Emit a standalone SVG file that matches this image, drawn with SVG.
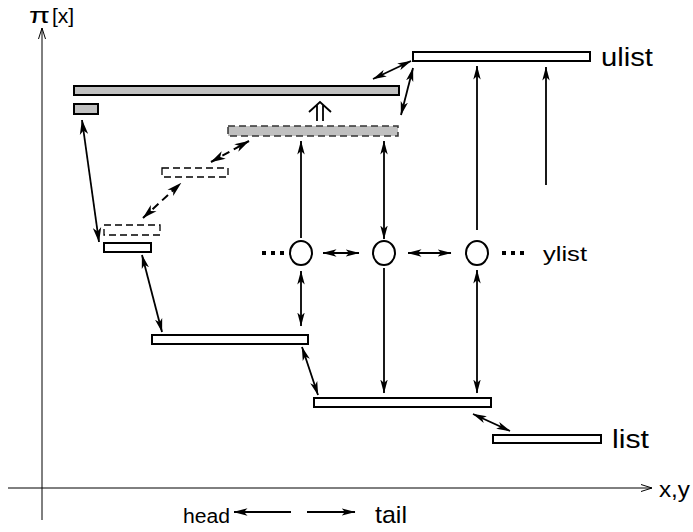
<svg xmlns="http://www.w3.org/2000/svg" width="693" height="532" viewBox="0 0 693 532">
<defs>
<marker id="ah" markerUnits="userSpaceOnUse" viewBox="0 0 14 8" markerWidth="14" markerHeight="8" refX="13.5" refY="4" orient="auto-start-reverse">
<path d="M0,0.3 L14,4 L0,7.7 L3.5,4 z" fill="#000"/>
</marker>
<marker id="ahb" markerUnits="userSpaceOnUse" viewBox="0 0 15 9" markerWidth="15" markerHeight="9" refX="14.5" refY="4.5" orient="auto-start-reverse">
<path d="M0,0.3 L15,4.5 L0,8.7 L4,4.5 z" fill="#000"/>
</marker>
<marker id="open" markerUnits="userSpaceOnUse" viewBox="0 0 12 10" markerWidth="12" markerHeight="10" refX="11" refY="5" orient="auto">
<path d="M0,1.5 L11,5 L0,8.5" fill="none" stroke="#000" stroke-width="1"/>
</marker>
</defs>
<style>
.bar{fill:#fff;stroke:#000;stroke-width:2}
.gbar{fill:#c0c0c0;stroke:#000;stroke-width:2}
.dgbar{fill:#c0c0c0;stroke:#333;stroke-width:1.5;stroke-dasharray:7,4}
.dbar{fill:#fff;stroke:#000;stroke-width:1.3;stroke-dasharray:7,4}
.a{stroke:#000;stroke-width:1.8;fill:none}
.da{stroke:#000;stroke-width:2;fill:none;stroke-dasharray:8,5}
.ax{stroke:#000;stroke-width:1;fill:none}
.node{fill:#fff;stroke:#000;stroke-width:2}
.t{font-family:"Liberation Sans",Arial,sans-serif;fill:#000}
</style>
<g id="axes">
<line class="ax" x1="42" y1="520" x2="42" y2="28" marker-end="url(#open)"/>
<line class="ax" x1="8" y1="488" x2="652" y2="488" marker-end="url(#open)"/>
<text class="t" x="29" y="23" font-size="22" textLength="21" lengthAdjust="spacingAndGlyphs">π</text>
<text class="t" x="52" y="23" font-size="21">[x]</text>
<text class="t" x="659" y="497" font-size="22" textLength="31" lengthAdjust="spacingAndGlyphs">x,y</text>
</g>
<g id="bar-top-gray"><rect class="gbar" x="74" y="86" width="325" height="9"/></g>
<g id="bar-small-gray"><rect class="gbar" x="74" y="104" width="24" height="10"/></g>
<g id="bar-dashed-gray"><rect class="dgbar" x="228" y="126" width="170" height="10"/></g>
<g id="bar-dashed-1"><rect class="dbar" x="162" y="168" width="66" height="9"/></g>
<g id="bar-dashed-2"><rect class="dbar" x="104" y="225" width="56" height="10"/></g>
<g id="bar-small"><rect class="bar" x="104" y="243" width="47" height="9"/></g>
<g id="bar-mid"><rect class="bar" x="152" y="335" width="156" height="9"/></g>
<g id="bar-low"><rect class="bar" x="314" y="398" width="177" height="9"/></g>
<g id="list"><rect class="bar" x="493" y="435" width="108" height="8"/><text class="t" x="612" y="448" font-size="25" textLength="37" lengthAdjust="spacingAndGlyphs">list</text></g>
<g id="ulist"><rect class="bar" x="413" y="52" width="177" height="9"/><text class="t" x="601" y="66" font-size="25" textLength="52" lengthAdjust="spacingAndGlyphs">ulist</text></g>
<g id="y1"><ellipse class="node" cx="301" cy="253" rx="11" ry="12"/></g>
<g id="y2"><ellipse class="node" cx="384" cy="253" rx="11" ry="12"/></g>
<g id="y3"><ellipse class="node" cx="477" cy="253" rx="11" ry="12"/></g>
<g id="dots-left"><rect x="262" y="251" width="4" height="4"/><rect x="271" y="251" width="4" height="4"/><rect x="280" y="251" width="4" height="4"/></g>
<g id="dots-right"><rect x="502" y="251" width="4" height="4"/><rect x="511" y="251" width="4" height="4"/><rect x="520" y="251" width="4" height="4"/></g>
<g id="ylist"><text class="t" x="543" y="261" font-size="21" textLength="44" lengthAdjust="spacingAndGlyphs">ylist</text></g>
<g id="legend">
<text class="t" x="183" y="523" font-size="20" textLength="47" lengthAdjust="spacingAndGlyphs">head</text>
<text class="t" x="375" y="523" font-size="24" textLength="32" lengthAdjust="spacingAndGlyphs">tail</text>
</g>
<g id="connectors">
<line class="a" x1="291" y1="512" x2="234" y2="512" marker-end="url(#ah)"/>
<line class="a" x1="307" y1="512" x2="355" y2="512" marker-end="url(#ah)"/>
<line class="a" stroke-width="2.4" x1="82" y1="120" x2="99" y2="242" marker-start="url(#ahb)" marker-end="url(#ahb)"/>
<line class="da" x1="211" y1="162" x2="249" y2="141" marker-start="url(#ahb)" marker-end="url(#ahb)"/>
<line class="da" x1="143" y1="218" x2="181" y2="183" marker-start="url(#ahb)" marker-end="url(#ahb)"/>
<line class="a" x1="142" y1="255" x2="162" y2="332" marker-start="url(#ah)" marker-end="url(#ah)"/>
<line class="a" x1="302" y1="347" x2="318" y2="395" marker-start="url(#ah)" marker-end="url(#ah)"/>
<line class="a" x1="473" y1="414" x2="510" y2="431" marker-start="url(#ah)" marker-end="url(#ah)"/>
<line class="a" x1="373" y1="79" x2="411" y2="61" marker-start="url(#ah)" marker-end="url(#ah)"/>
<line class="a" x1="413" y1="68" x2="401" y2="115" marker-start="url(#ah)" marker-end="url(#ah)"/>
<line class="a" x1="301" y1="238" x2="301" y2="141" marker-end="url(#ah)"/>
<line class="a" x1="301" y1="271" x2="301" y2="326" marker-start="url(#ah)" marker-end="url(#ah)"/>
<line class="a" x1="384" y1="141" x2="384" y2="239" marker-start="url(#ah)" marker-end="url(#ah)"/>
<line class="a" x1="384" y1="268" x2="384" y2="393" marker-end="url(#ah)"/>
<line class="a" x1="477" y1="230" x2="477" y2="66" marker-end="url(#ah)"/>
<line class="a" x1="477" y1="270" x2="477" y2="393" marker-start="url(#ah)" marker-end="url(#ah)"/>
<line class="a" x1="546" y1="185" x2="546" y2="67" marker-end="url(#ah)"/>
<line class="a" x1="323" y1="253" x2="359" y2="253" marker-start="url(#ah)" marker-end="url(#ah)"/>
<line class="a" x1="408" y1="253" x2="451" y2="253" marker-start="url(#ah)" marker-end="url(#ah)"/>
<path class="a" d="M309,112 L320,102 L331,112 M317,105 V121 M323,105 V121"/>
</g>
</svg>
